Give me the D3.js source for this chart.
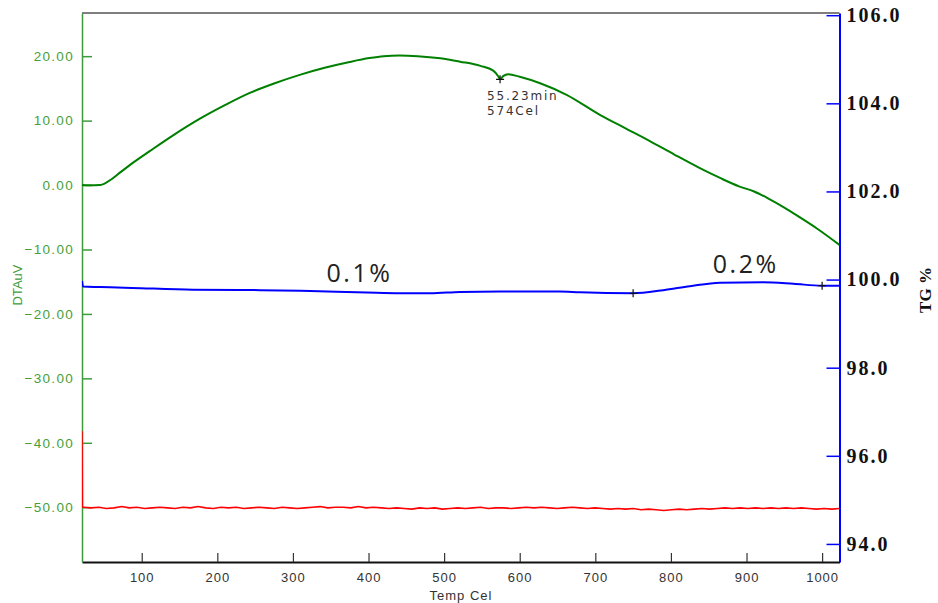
<!DOCTYPE html>
<html>
<head>
<meta charset="utf-8">
<script src="https://cdn.jsdelivr.net/npm/d3@7/dist/d3.min.js"></script>
<style>
  html, body { margin: 0; padding: 0; background: #fff; }
  svg { display: block; }
</style>
</head>
<body>
<svg id="chart" width="938" height="603"></svg>
<script>
// ---------------- DATA ----------------
const xTicks = [100, 200, 300, 400, 500, 600, 700, 800, 900, 1000];
const dtaTicks = [20, 10, 0, -10, -20, -30, -40, -50];
const tgTicks = [94, 96, 98, 100, 102, 104, 106];

// DTA (uV) vs temperature (Cel) - green curve, left axis
const dtaTemp = [21, 30, 45, 60, 72, 90, 111, 140, 177, 210, 243, 276, 309, 342, 375, 401, 420, 441, 465, 495, 521, 548, 565, 572, 574, 578, 585, 600, 627, 662, 706, 740, 771, 805, 837, 865, 890, 910, 929, 950, 969, 995, 1023];
const dtaVal  = [0.0, -0.05, 0.0, 0.9, 2.0, 3.6, 5.3, 7.6, 10.3, 12.4, 14.3, 15.8, 17.1, 18.2, 19.1, 19.7, 20.0, 20.1, 20.0, 19.67, 19.15, 18.5, 17.75, 16.8, 16.4, 16.9, 17.2, 16.8, 15.8, 14.0, 10.9, 8.8, 6.9, 4.7, 2.7, 1.1, -0.2, -1.0, -2.1, -3.5, -4.9, -6.9, -9.3];

// TG (%) vs temperature - blue curve, right axis
const tgTemp = [21, 22.5, 45, 87, 168, 257, 310, 323, 398, 442, 482, 521, 574, 653, 680, 750, 790, 825, 865, 922, 962, 1000, 1023];
const tgVal  = [99.97, 99.84, 99.83, 99.81, 99.77, 99.76, 99.745, 99.74, 99.705, 99.69, 99.69, 99.72, 99.73, 99.73, 99.71, 99.69, 99.76, 99.85, 99.93, 99.94, 99.905, 99.86, 99.86];

// Red signal (left axis) : start spike then noisy baseline
const redSpikeTemp = [21, 21.5];
const redSpikeVal  = [-38.2, -50.0];
const redStart = 23, redStep = 10.1;
const redVal = [
  -50.0,-50.1,-50.0,-50.2,-50.1,-49.9,-50.1,-50.0,-50.2,-50.1,
  -50.0,-50.1,-50.2,-50.0,-50.1,-49.9,-50.1,-50.2,-50.0,-50.1,
  -50.0,-50.2,-50.1,-50.0,-50.1,-50.2,-50.0,-50.1,-50.2,-50.1,
  -50.0,-49.9,-50.1,-50.0,-50.0,-50.1,-49.9,-50.1,-50.0,-50.1,
  -50.2,-50.1,-50.2,-50.3,-50.1,-50.2,-50.1,-50.3,-50.2,-50.1,
  -50.2,-50.1,-50.0,-50.2,-50.1,-50.1,-50.2,-50.1,-50.0,-50.1,
  -50.0,-50.1,-50.2,-50.1,-50.0,-50.1,-50.2,-50.1,-50.2,-50.3,
  -50.2,-50.3,-50.2,-50.4,-50.3,-50.4,-50.5,-50.4,-50.3,-50.4,
  -50.3,-50.2,-50.3,-50.2,-50.1,-50.2,-50.1,-50.2,-50.1,-50.2,
  -50.1,-50.2,-50.1,-50.2,-50.1,-50.2,-50.3,-50.2,-50.3,-50.2
];

// annotations
const peakMarker = { temp: 574, dta: 16.4, lines: ["55.23min", "574Cel"] };
const tgMarkers = [750, 1000];
const tgMarkerVal = [99.69, 99.86];
const pctLabels = [
  { text: "0.1%", temp: 388, tg: 99.94 },
  { text: "0.2%", temp: 899, tg: 100.15 }
];

// ---------------- CHART ----------------
const svg = d3.select("#chart");
const L = 82, R = 839.5, T = 13, B = 562;

const x  = d3.scaleLinear().domain([21, 1023]).range([L, R]);
const yL = d3.scaleLinear().domain([-58.5, 26.7]).range([B, T]);
const yR = d3.scaleLinear().domain([93.59, 106.05]).range([B, T]);

// top border
svg.append("line").attr("x1", L).attr("x2", R).attr("y1", T).attr("y2", T)
  .attr("stroke", "#555").attr("stroke-width", 1.5);

// bottom axis
const gx = svg.append("g").attr("transform", `translate(0,${B})`)
  .call(d3.axisBottom(x).tickValues(xTicks).tickSizeInner(-9).tickSizeOuter(0).tickPadding(11).tickFormat(d3.format("d")));
gx.select(".domain").attr("stroke", "#111").attr("stroke-width", 2);
gx.selectAll(".tick line").attr("stroke", "#333").attr("stroke-width", 1.2);
gx.selectAll(".tick text").attr("fill", "#333").attr("font-family", "'Liberation Sans', Arial, sans-serif")
  .attr("font-size", 13).attr("letter-spacing", "1px");

// left axis
const gl = svg.append("g").attr("transform", `translate(${L},0)`)
  .call(d3.axisLeft(yL).tickValues(dtaTicks).tickSizeInner(-10).tickSizeOuter(0).tickPadding(8).tickFormat(d3.format(".2f")));
gl.select(".domain").attr("stroke", "#3c9c3c").attr("stroke-width", 1.5);
gl.selectAll(".tick line").attr("stroke", "#3c9c3c").attr("stroke-width", 1.5);
gl.selectAll(".tick text").attr("fill", "#47a03a").attr("font-family", "'Liberation Sans', Arial, sans-serif")
  .attr("font-size", 13.5).attr("letter-spacing", "1.3px");

// right axis
const gr = svg.append("g").attr("transform", `translate(${R},0)`)
  .call(d3.axisRight(yR).tickValues(tgTicks).tickSizeInner(-13).tickSizeOuter(0).tickPadding(7).tickFormat(d3.format(".1f")));
gr.select(".domain").attr("stroke", "#0000ff").attr("stroke-width", 2);
gr.selectAll(".tick line").attr("stroke", "#0000ff").attr("stroke-width", 1.5);
gr.selectAll(".tick text").attr("fill", "#111").attr("font-family", "'Liberation Serif', 'Times New Roman', serif")
  .attr("font-size", 20).attr("font-weight", "bold").attr("letter-spacing", "2px");

// axis titles
svg.append("text").attr("transform", "translate(22,285) rotate(-90)")
  .attr("text-anchor", "middle").attr("fill", "#3c9c3c")
  .attr("font-family", "'Liberation Sans', Arial, sans-serif").attr("font-size", 13)
  .text("DTAuV");
svg.append("text").attr("transform", "translate(931,290) rotate(-90)")
  .attr("text-anchor", "middle").attr("fill", "#111")
  .attr("font-family", "'Liberation Serif', 'Times New Roman', serif").attr("font-size", 17).attr("font-weight", "bold")
  .text("TG %");
svg.append("text").attr("x", 461).attr("y", 600)
  .attr("text-anchor", "middle").attr("fill", "#333")
  .attr("font-family", "'Liberation Sans', Arial, sans-serif").attr("font-size", 13).attr("letter-spacing", "1px")
  .text("Temp Cel");

// clip
svg.append("clipPath").attr("id", "clip").append("rect")
  .attr("x", L).attr("y", T).attr("width", R - L).attr("height", B - T);

const plot = svg.append("g").attr("clip-path", "url(#clip)");

// red
const redPts = redSpikeTemp.map((t, i) => [t, redSpikeVal[i]])
  .concat(redVal.map((v, i) => [redStart + i * redStep, v]));
plot.append("path").datum(redPts)
  .attr("fill", "none").attr("stroke", "#ff0000").attr("stroke-width", 1.6)
  .attr("d", d3.line().x(d => x(d[0])).y(d => yL(d[1])));

// blue TG
const tgPts = tgTemp.map((t, i) => [t, tgVal[i]]);
plot.append("path").datum(tgPts)
  .attr("fill", "none").attr("stroke", "#0000ff").attr("stroke-width", 2)
  .attr("d", d3.line().x(d => x(d[0])).y(d => yR(d[1])).curve(d3.curveMonotoneX));

// green DTA
const dtaPts = dtaTemp.map((t, i) => [t, dtaVal[i]]);
plot.append("path").datum(dtaPts)
  .attr("fill", "none").attr("stroke", "#008000").attr("stroke-width", 2)
  .attr("d", d3.line().x(d => x(d[0])).y(d => yL(d[1])).curve(d3.curveMonotoneX));

// markers "+"
function cross(cx, cy) {
  svg.append("path").attr("d", `M${cx - 4},${cy}H${cx + 4}M${cx},${cy - 4}V${cy + 4}`)
    .attr("stroke", "#111").attr("stroke-width", 1.2);
}
cross(x(peakMarker.temp), yL(peakMarker.dta));
tgMarkers.forEach((t, i) => cross(x(t), yR(tgMarkerVal[i])));

// peak annotation
peakMarker.lines.forEach((s, i) => {
  svg.append("text").attr("x", x(peakMarker.temp) - 13).attr("y", yL(peakMarker.dta) + 21 + i * 15)
    .attr("fill", "#333").attr("font-family", "'DejaVu Sans', Verdana, sans-serif")
    .attr("font-size", 12).attr("letter-spacing", "1.8px").text(s);
});

// percent labels
pctLabels.forEach(p => {
  svg.append("text").attr("x", x(p.temp)).attr("y", yR(p.tg))
    .attr("text-anchor", "middle").attr("fill", "#222")
    .attr("font-family", "'Open Sans', 'Noto Sans', sans-serif").attr("font-size", 25)
    .attr("letter-spacing", "2.5px").text(p.text);
});
</script>
</body>
</html>
